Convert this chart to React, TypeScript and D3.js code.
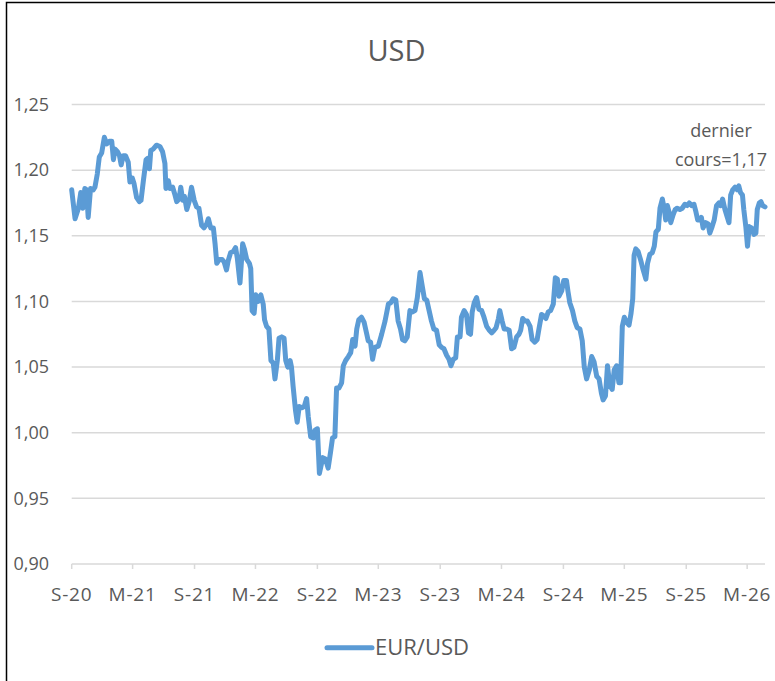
import React from "react";
import * as d3 from "d3";

const title = "USD";
const seriesName = "EUR/USD";
const annotationLines = ["dernier", "cours=1,17"];

const yTicks = [0.9, 0.95, 1.0, 1.05, 1.1, 1.15, 1.2, 1.25];
const xTickDates = [
  "2020-09-01", "2021-03-01", "2021-09-01", "2022-03-01", "2022-09-01", "2023-03-01",
  "2023-09-01", "2024-03-01", "2024-09-01", "2025-03-01", "2025-09-01", "2026-03-01",
];
const xTickLabels = ["S-20", "M-21", "S-21", "M-22", "S-22", "M-23", "S-23", "M-24", "S-24", "M-25", "S-25", "M-26"];

const dates = [
  "2020-09-01","2020-09-11","2020-09-21","2020-09-28","2020-10-04","2020-10-10","2020-10-15","2020-10-20","2020-10-27","2020-11-04",
  "2020-11-09","2020-11-16","2020-11-22","2020-11-29","2020-12-07","2020-12-14","2020-12-22","2020-12-29","2021-01-03","2021-01-08",
  "2021-01-15","2021-01-21","2021-01-26","2021-02-01","2021-02-08","2021-02-16","2021-02-21","2021-02-28","2021-03-05","2021-03-13",
  "2021-03-21","2021-03-26","2021-04-02","2021-04-10","2021-04-15","2021-04-20","2021-04-24","2021-05-01","2021-05-11","2021-05-21",
  "2021-05-29","2021-06-05","2021-06-08","2021-06-15","2021-06-20","2021-06-28","2021-07-05","2021-07-10","2021-07-17","2021-07-22",
  "2021-07-28","2021-08-02","2021-08-09","2021-08-16","2021-08-23","2021-08-31","2021-09-07","2021-09-14","2021-09-22","2021-09-29",
  "2021-10-07","2021-10-12","2021-10-19","2021-10-27","2021-11-01","2021-11-06","2021-11-14","2021-11-22","2021-11-28","2021-12-05",
  "2021-12-10","2021-12-17","2021-12-25","2022-01-01","2022-01-06","2022-01-14","2022-01-22","2022-01-27","2022-02-03","2022-02-11",
  "2022-02-15","2022-02-19","2022-02-25","2022-03-02","2022-03-09","2022-03-17","2022-03-24","2022-03-28","2022-04-03","2022-04-10",
  "2022-04-16","2022-04-23","2022-04-28","2022-05-05","2022-05-10","2022-05-18","2022-05-25","2022-05-30","2022-06-05","2022-06-12",
  "2022-06-16","2022-06-21","2022-06-28","2022-07-03","2022-07-09","2022-07-18","2022-07-24","2022-07-31","2022-08-05","2022-08-12",
  "2022-08-20","2022-08-25","2022-09-01","2022-09-07","2022-09-17","2022-09-25","2022-10-03","2022-10-10","2022-10-16","2022-10-23",
  "2022-10-28","2022-11-04","2022-11-12","2022-11-17","2022-11-24","2022-12-02","2022-12-09","2022-12-15","2022-12-22","2022-12-27",
  "2023-01-02","2023-01-10","2023-01-18","2023-01-25","2023-01-30","2023-02-06","2023-02-12","2023-02-19","2023-03-01","2023-03-11",
  "2023-03-21","2023-03-31","2023-04-07","2023-04-14","2023-04-22","2023-04-29","2023-05-06","2023-05-12","2023-05-19","2023-05-26",
  "2023-06-03","2023-06-10","2023-06-18","2023-06-25","2023-07-03","2023-07-10","2023-07-16","2023-07-23","2023-07-30","2023-08-06",
  "2023-08-13","2023-08-21","2023-08-29","2023-09-05","2023-09-12","2023-09-20","2023-09-27","2023-10-03","2023-10-10","2023-10-17",
  "2023-10-22","2023-10-30","2023-11-03","2023-11-11","2023-11-18","2023-11-24","2023-11-30","2023-12-05","2023-12-11","2023-12-18",
  "2023-12-25","2024-01-02","2024-01-09","2024-01-17","2024-01-25","2024-02-01","2024-02-08","2024-02-14","2024-02-21","2024-02-25",
  "2024-03-03","2024-03-09","2024-03-16","2024-03-24","2024-03-31","2024-04-07","2024-04-15","2024-04-22","2024-04-27","2024-05-03",
  "2024-05-10","2024-05-17","2024-05-25","2024-05-31","2024-06-08","2024-06-15","2024-06-21","2024-06-28","2024-07-05","2024-07-11",
  "2024-07-18","2024-07-25","2024-08-02","2024-08-08","2024-08-14","2024-08-19","2024-08-27","2024-09-02","2024-09-10","2024-09-15",
  "2024-09-20","2024-09-28","2024-10-05","2024-10-12","2024-10-20","2024-10-27","2024-11-02","2024-11-09","2024-11-17","2024-11-24",
  "2024-12-01","2024-12-09","2024-12-16","2024-12-23","2024-12-28","2025-01-04","2025-01-10","2025-01-17","2025-01-24","2025-01-30",
  "2025-02-06","2025-02-13","2025-02-18","2025-02-23","2025-03-01","2025-03-08","2025-03-15","2025-03-21","2025-03-26","2025-03-30",
  "2025-04-04","2025-04-11","2025-04-18","2025-04-26","2025-05-04","2025-05-09","2025-05-16","2025-05-23","2025-05-29","2025-06-03",
  "2025-06-10","2025-06-15","2025-06-22","2025-06-28","2025-07-02","2025-07-07","2025-07-12","2025-07-17","2025-07-24","2025-07-30",
  "2025-08-05","2025-08-13","2025-08-20","2025-08-28","2025-09-04","2025-09-10","2025-09-17","2025-09-24","2025-09-30","2025-10-05",
  "2025-10-12","2025-10-16","2025-10-21","2025-10-29","2025-11-05","2025-11-10","2025-11-17","2025-11-23","2025-11-30","2025-12-07",
  "2025-12-12","2025-12-18","2025-12-25","2026-01-01","2026-01-06","2026-01-11","2026-01-17","2026-01-24","2026-01-30","2026-02-04",
  "2026-02-09","2026-02-15","2026-02-19","2026-02-25","2026-03-02","2026-03-07","2026-03-14","2026-03-21","2026-03-27","2026-03-31",
  "2026-04-06","2026-04-11","2026-04-16","2026-04-23",
];

const values = [
  1.185,1.163,1.171,1.183,1.171,1.186,1.185,1.164,1.186,1.185,
  1.187,1.197,1.210,1.213,1.225,1.220,1.222,1.222,1.208,1.216,
  1.214,1.211,1.204,1.211,1.211,1.206,1.191,1.194,1.190,1.179,
  1.176,1.177,1.192,1.208,1.209,1.201,1.215,1.216,1.219,1.218,
  1.214,1.205,1.186,1.192,1.186,1.187,1.181,1.176,1.178,1.187,
  1.177,1.180,1.170,1.176,1.187,1.177,1.172,1.171,1.158,1.156,
  1.159,1.163,1.156,1.156,1.144,1.129,1.132,1.132,1.130,1.124,
  1.131,1.137,1.138,1.141,1.133,1.114,1.144,1.140,1.132,1.129,
  1.125,1.093,1.091,1.105,1.100,1.105,1.098,1.086,1.081,1.079,
  1.055,1.053,1.041,1.055,1.072,1.073,1.072,1.055,1.050,1.055,
  1.050,1.035,1.017,1.008,1.020,1.019,1.020,1.026,1.012,0.997,
  0.996,1.002,1.003,0.969,0.981,0.980,0.973,0.985,0.996,0.997,
  1.034,1.034,1.038,1.051,1.055,1.058,1.061,1.071,1.066,1.079,
  1.086,1.088,1.084,1.076,1.070,1.069,1.056,1.065,1.066,1.075,
  1.085,1.098,1.099,1.102,1.101,1.085,1.079,1.071,1.070,1.073,
  1.093,1.092,1.093,1.103,1.122,1.111,1.102,1.101,1.093,1.085,
  1.079,1.078,1.067,1.065,1.064,1.059,1.056,1.051,1.056,1.057,
  1.073,1.073,1.088,1.093,1.090,1.076,1.075,1.092,1.099,1.103,
  1.094,1.093,1.088,1.081,1.078,1.076,1.078,1.080,1.087,1.093,
  1.085,1.079,1.079,1.078,1.064,1.065,1.073,1.075,1.078,1.087,
  1.085,1.085,1.081,1.071,1.069,1.071,1.080,1.090,1.089,1.087,
  1.092,1.093,1.098,1.118,1.117,1.104,1.108,1.116,1.116,1.107,
  1.099,1.093,1.085,1.080,1.079,1.070,1.050,1.041,1.048,1.058,
  1.054,1.043,1.041,1.030,1.025,1.028,1.051,1.036,1.033,1.048,
  1.051,1.038,1.038,1.081,1.088,1.084,1.082,1.091,1.102,1.135,
  1.140,1.138,1.132,1.124,1.117,1.129,1.136,1.137,1.142,1.153,
  1.155,1.171,1.178,1.170,1.162,1.173,1.168,1.160,1.166,1.170,
  1.171,1.170,1.171,1.174,1.173,1.175,1.173,1.174,1.168,1.162,
  1.162,1.164,1.156,1.160,1.159,1.152,1.157,1.162,1.173,1.175,
  1.173,1.178,1.170,1.164,1.160,1.181,1.185,1.187,1.185,1.188,
  1.183,1.181,1.170,1.157,1.142,1.157,1.156,1.151,1.152,1.170,
  1.175,1.176,1.173,1.172,
];

const FONT = "'Open Sans', Lato, sans-serif";
const TEXT = "#595959";
const GRID = "#d9d9d9";
const LINE = "#5b9bd5";

export default function App() {
  const W = 775;
  const H = 681;
  const parse = d3.utcParse("%Y-%m-%d");
  const x = d3
    .scaleUtc()
    .domain([parse("2020-09-01") as Date, parse("2026-04-23") as Date])
    .range([71.7, 765]);
  const y = d3.scaleLinear().domain([0.9, 1.25]).range([564, 104.5]);

  const pts = dates.map((d, i) => [x(parse(d) as Date), y(values[i])] as [number, number]);
  const path = d3.line().curve(d3.curveLinear)(pts) || "";
  const fmt = (v: number) => d3.format(".2f")(v).replace(".", ",");

  const [x0, x1] = x.range();

  return (
    <svg
      width={W}
      height={H}
      style={{ position: "absolute", left: 0, top: 0, background: "#fff" }}
      fontFamily={FONT}
    >
      <rect x={0} y={0} width={W} height={H} fill="#fff" />
      <rect x={6.5} y={2.5} width={W + 10} height={H + 10} fill="none" stroke="#000" strokeWidth={1.5} />

      <text x={396.5} y={61} textAnchor="middle" fontSize={29} fill={TEXT}>
        {title}
      </text>

      {yTicks.map((t) => (
        <g key={t}>
          <line x1={x0} x2={x1} y1={y(t)} y2={y(t)} stroke={GRID} strokeWidth={1.5} />
          <text x={49} y={y(t)} dy="0.35em" textAnchor="end" fontSize={18} fill={TEXT}>
            {fmt(t)}
          </text>
        </g>
      ))}

      {xTickDates.map((d, i) => {
        const xp = x(parse(d) as Date);
        return (
          <g key={d}>
            <line x1={xp} x2={xp} y1={y(0.9)} y2={y(0.9) + 5} stroke={GRID} strokeWidth={1.5} />
            <text x={xp} y={600.5} textAnchor="middle" fontSize={19} letterSpacing={0.8} fill={TEXT}>
              {xTickLabels[i]}
            </text>
          </g>
        );
      })}

      <path d={path} fill="none" stroke={LINE} strokeWidth={5} strokeLinejoin="round" strokeLinecap="round" />

      {annotationLines.map((t, i) => (
        <text key={t} x={721} y={137 + i * 29} textAnchor="middle" fontSize={18} fill={TEXT}>
          {t}
        </text>
      ))}

      <line x1={327} x2={372} y1={647.7} y2={647.7} stroke={LINE} strokeWidth={5} strokeLinecap="round" />
      <text x={375} y={655} fontSize={22} fill={TEXT}>
        {seriesName}
      </text>
    </svg>
  );
}
